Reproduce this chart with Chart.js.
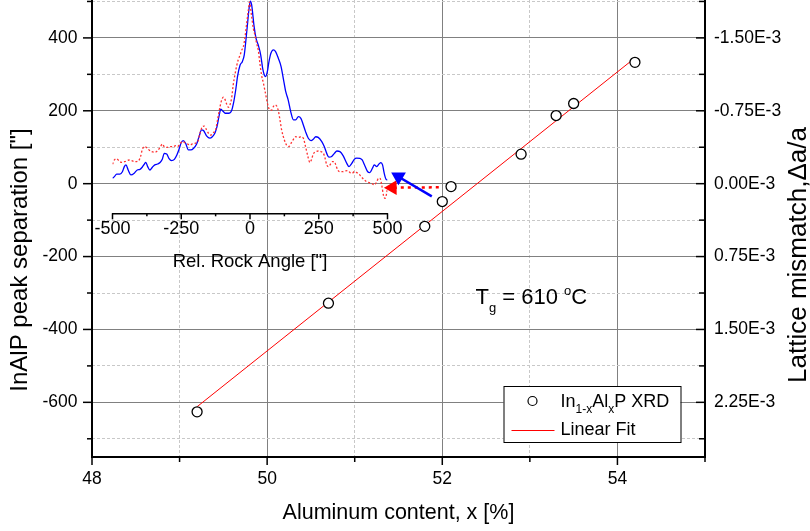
<!doctype html>
<html lang="en">
<head>
<meta charset="UTF-8" />
<title>InAlP peak separation vs Al content</title>
<script src="https://cdn.jsdelivr.net/npm/chart.js@4"></script>
<style>
  html, body { margin: 0; padding: 0; background: #fff; }
  .wrap { position: relative; width: 810px; height: 531px; }
  .wrap canvas { position: absolute; left: 0; top: 0; }
  #inset { pointer-events: none; }
</style>
</head>
<body>
<div class="wrap">
  <canvas id="main" width="810" height="531"></canvas>
  <canvas id="inset" width="810" height="531"></canvas>
</div>
<script>
// main plot: XRD peak separation vs Al content
const alContent = [49.2, 50.7, 51.8, 52.0, 52.1, 52.9, 53.3, 53.5, 54.2];
const peakSep = [-626, -328, -117, -49, -8, 81, 187, 220, 333];
const fitX = [49.2, 54.2];
const fitY = [-612, 345];

const xMajor = [48, 50, 52, 54];
const xMinor = [49, 51, 53, 55];
const yMajor = [-600, -400, -200, 0, 200, 400];
const yMinor = [-700, -500, -300, -100, 100, 300, 500];
const mismatchLabels = ['2.25E-3', '1.50E-3', '0.75E-3', '0.00E-3', '-0.75E-3', '-1.50E-3'];

// arrows from the two points near 52 % back into the inset
const blueArrowX = [51.88, 51.5];
const blueArrowY = [-35, 19];
const redArrowX = [51.96, 51.43];
const redArrowY = [-10, -11];

// inset: rocking curves, log intensity in arbitrary units
const blueAngle = [-500, -493, -485, -473, -464, -457, -451, -443, -433, -421,
  -410, -400, -392, -384, -379, -372, -364, -355, -346, -336,
  -327, -319, -312, -303, -295, -285, -275, -266, -258, -251,
  -243, -234, -224, -215, -205, -194, -186, -176, -169, -158,
  -146, -137, -127, -120, -113, -106, -97, -89, -76, -67,
  -60, -52, -45, -36, -28, -21, -16, -10, -4, 1,
  6, 15, 22, 30, 39, 46, 52, 57, 63, 69,
  76, 85, 93, 103, 113, 121, 130, 139, 148, 158,
  166, 176, 185, 194, 202, 212, 222, 230, 239, 248,
  261, 270, 279, 287, 297, 307, 316, 327, 339, 352,
  360, 370, 379, 388, 400, 408, 418, 428, 436, 445,
  452, 461, 469, 476, 482, 488, 495, 500];
const blueInt = [16.4, 17.2, 18.4, 18.4, 19.5, 21.9, 22.7, 20.3, 18.0, 18.8,
  20.3, 20.6, 21.6, 23.1, 23.9, 21.9, 20.3, 21.6, 22.7, 23.1,
  23.8, 25.3, 28.1, 27.8, 25.8, 24.7, 25.3, 27.3, 30.0, 32.8,
  34.1, 32.8, 29.7, 29.7, 30.5, 32.5, 35.6, 39.1, 38.8, 36.3,
  35.2, 35.9, 37.8, 40.6, 45.3, 48.8, 47.7, 46.9, 46.9, 48.1,
  51.6, 57.8, 64.4, 69.5, 71.1, 74.2, 79.7, 87.5, 95.3, 99.5,
  97.7, 87.5, 82.0, 78.9, 74.2, 68.0, 64.8, 64.1, 66.4, 71.1,
  75.0, 76.6, 75.8, 72.7, 68.8, 63.3, 57.0, 53.1, 47.7, 43.8,
  43.8, 45.3, 44.5, 41.4, 38.3, 35.2, 34.1, 34.7, 35.9, 35.6,
  33.6, 31.3, 28.1, 26.3, 26.6, 28.1, 29.2, 28.9, 26.9, 23.4,
  21.9, 23.4, 25.3, 25.9, 25.8, 25.0, 22.2, 19.5, 19.1, 21.1,
  22.7, 21.9, 23.1, 23.8, 22.7, 18.8, 15.9, 15.6];
const redAngle = [-500, -493, -485, -476, -467, -457, -449, -440, -430, -418,
  -406, -398, -392, -384, -376, -367, -358, -346, -336, -327,
  -319, -312, -303, -291, -279, -270, -263, -255, -246, -236,
  -227, -218, -210, -200, -190, -182, -173, -166, -158, -149,
  -142, -133, -125, -118, -109, -103, -97, -91, -85, -79,
  -73, -67, -61, -55, -49, -43, -36, -30, -24, -18,
  -12, -6, -2, 6, 12, 18, 24, 30, 36, 42,
  49, 55, 61, 67, 73, 79, 85, 91, 97, 103,
  109, 115, 125, 133, 142, 149, 158, 166, 176, 185,
  194, 202, 210, 218, 224, 230, 239, 248, 258, 267,
  273, 279, 285, 291, 299, 307, 312, 319, 327, 336,
  345, 355, 364, 372, 379, 388, 396, 406, 416, 424,
  433, 442, 452, 461, 467, 473, 479, 485, 491, 497, 500];
const redInt = [23.0, 25.0, 25.6, 24.5, 23.9, 24.2, 24.5, 25.0, 24.7, 24.2,
  24.5, 26.6, 29.7, 31.3, 30.8, 29.7, 28.9, 28.6, 29.4, 30.9,
  32.5, 31.3, 30.9, 31.3, 31.3, 31.7, 31.3, 32.5, 33.6, 33.1,
  32.5, 32.0, 32.5, 32.8, 33.6, 37.5, 40.6, 40.9, 39.1, 37.2,
  36.7, 37.8, 39.1, 43.8, 50.0, 53.1, 54.4, 53.4, 51.3, 49.7,
  50.8, 53.9, 60.2, 64.8, 68.8, 71.9, 74.2, 76.6, 78.1, 82.8,
  89.1, 95.3, 99.0, 92.2, 86.7, 83.6, 79.7, 76.6, 70.3, 64.8,
  60.9, 57.0, 53.1, 49.7, 48.4, 48.4, 50.0, 50.8, 50.3, 48.1,
  43.8, 39.1, 34.4, 32.0, 31.3, 32.8, 34.7, 35.9, 35.6, 35.9,
  35.2, 31.3, 26.9, 23.8, 25.3, 27.8, 28.9, 29.2, 28.9, 28.1,
  25.8, 22.7, 21.9, 22.7, 24.2, 24.2, 22.7, 20.3, 19.5, 19.5,
  19.8, 20.0, 19.1, 18.8, 19.5, 19.1, 18.4, 16.9, 15.6, 14.8,
  14.4, 14.1, 13.3, 14.8, 16.4, 16.4, 13.3, 8.6, 7.0, 9.4, 11.7];
const insetMajor = [-500, -250, 0, 250, 500];
const insetMinor = [-375, -125, 125, 375];

const FONT = "'Liberation Sans', Arial, sans-serif";
Chart.defaults.font.family = FONT;
Chart.defaults.color = '#000';
Chart.defaults.animation = false;

const pts = (xs, ys) => xs.map((x, i) => ({ x: x, y: ys[i] }));
const setTicks = (vals) => (s) => { s.ticks = vals.map((v) => ({ value: v })); };
// fixed axis width, and no extra room for labels at the ends
const fixWidth = (w) => (s) => { s.width = w; s.paddingTop = 0; s.paddingBottom = 0; };

// tick marks, drawn per axis with their own length and direction
function tickMarkPlugin(specs) {
  return {
    id: 'tickMarks',
    afterDraw(chart) {
      const ctx = chart.ctx;
      const area = chart.chartArea;
      ctx.save();
      ctx.strokeStyle = '#000';
      ctx.lineWidth = 1.5;
      specs.forEach((a) => {
        const scale = chart.scales[a.id];
        const draw = (vals, len) => vals.forEach((v) => {
          const p = scale.getPixelForValue(v);
          ctx.beginPath();
          if (a.edge === 'bottom') {
            ctx.moveTo(p, area.bottom);
            ctx.lineTo(p, area.bottom + len);
          } else if (a.edge === 'left') {
            ctx.moveTo(area.left, p);
            ctx.lineTo(area.left - len, p);
          } else {
            ctx.moveTo(area.right, p);
            ctx.lineTo(area.right - len, p);
          }
          ctx.stroke();
        });
        draw(a.major, a.majorLen);
        draw(a.minor, a.minorLen);
      });
      ctx.restore();
    }
  };
}

// text made of runs: [text, size, baseline shift]
function drawRuns(ctx, x, y, runs) {
  runs.forEach(([t, size, dy]) => {
    ctx.font = size + 'px ' + FONT;
    ctx.fillText(t, x, y + dy);
    x += ctx.measureText(t).width;
  });
}

const textPlugin = {
  id: 'texts',
  afterDraw(chart) {
    const ctx = chart.ctx;
    const area = chart.chartArea;
    const sx = chart.scales.x, sy = chart.scales.y;
    ctx.save();
    ctx.fillStyle = '#000';

    // vertical axis titles
    ctx.textAlign = 'center';
    ctx.textBaseline = 'middle';
    ctx.save();
    ctx.translate(area.left - 72, area.top + 260);
    ctx.rotate(-Math.PI / 2);
    ctx.font = '24px ' + FONT;
    ctx.fillText('InAlP peak separation ["]', 0, 0);
    ctx.restore();
    ctx.save();
    ctx.translate(area.right + 94, area.top + 255);
    ctx.rotate(-Math.PI / 2);
    ctx.font = '26px ' + FONT;
    ctx.fillText('Lattice mismatch,\u0394a/a', 0, 0);
    ctx.restore();

    // growth temperature note
    ctx.textAlign = 'left';
    ctx.textBaseline = 'alphabetic';
    drawRuns(ctx, sx.getPixelForValue(52.38), sy.getPixelForValue(-329), [
      ['T', 22, 0], ['g', 13, 8], [' = 610 ', 22, 0], ['o', 13, -9], ['C', 22, 0]
    ]);

    // legend box
    const bx = area.right - 201.5, by = area.bottom - 71, bw = 177, bh = 56;
    ctx.fillStyle = '#fff';
    ctx.fillRect(bx, by, bw, bh);
    ctx.strokeStyle = '#000';
    ctx.lineWidth = 1;
    ctx.strokeRect(bx + 0.5, by + 0.5, bw, bh);
    ctx.beginPath();
    ctx.arc(bx + 29, by + 15, 4.5, 0, Math.PI * 2);
    ctx.lineWidth = 1.2;
    ctx.stroke();
    ctx.beginPath();
    ctx.strokeStyle = '#ff0000';
    ctx.lineWidth = 1;
    ctx.moveTo(bx + 8, by + 44.5);
    ctx.lineTo(bx + 51, by + 44.5);
    ctx.stroke();
    ctx.fillStyle = '#000';
    drawRuns(ctx, bx + 57, by + 21, [
      ['In', 18, 0], ['1-x', 12, 6], ['Al', 18, 0], ['x', 12, 6], ['P XRD', 18, 0]
    ]);
    drawRuns(ctx, bx + 57, by + 49, [['Linear Fit', 18, 0]]);
    ctx.restore();
  }
};

function arrowRotation(c) {
  if (c.type !== 'data' || c.dataIndex !== 1) return 0;
  const d = c.dataset.data;
  const sx = c.chart.scales.x, sy = c.chart.scales.y;
  const dx = sx.getPixelForValue(d[1].x) - sx.getPixelForValue(d[0].x);
  const dy = sy.getPixelForValue(d[1].y) - sy.getPixelForValue(d[0].y);
  return Math.atan2(dx, -dy) * 180 / Math.PI;
}

new Chart(document.getElementById('main'), {
  type: 'scatter',
  data: {
    datasets: [
      {
        label: 'In1-xAlxP XRD',
        data: pts(alContent, peakSep),
        pointRadius: 5,
        pointBorderWidth: 1.3,
        borderColor: '#000',
        backgroundColor: '#fff',
        order: 0
      },
      {
        label: 'Linear Fit',
        type: 'line',
        data: pts(fitX, fitY),
        borderColor: '#ff0000',
        borderWidth: 1,
        pointRadius: 0,
        order: 1
      },
      {
        label: 'blue arrow',
        type: 'line',
        data: pts(blueArrowX, blueArrowY),
        borderColor: '#0000ff',
        borderWidth: 2.5,
        pointRadius: [0, 6],
        pointStyle: 'triangle',
        pointBackgroundColor: '#0000ff',
        pointBorderColor: '#0000ff',
        pointRotation: arrowRotation,
        order: 2
      },
      {
        label: 'red arrow',
        type: 'line',
        data: pts(redArrowX, redArrowY),
        borderColor: '#ff0000',
        borderWidth: 2.5,
        borderDash: [3, 4],
        pointRadius: [0, 6],
        pointStyle: 'triangle',
        pointBackgroundColor: '#ff0000',
        pointBorderColor: '#ff0000',
        pointRotation: arrowRotation,
        order: 3
      }
    ]
  },
  options: {
    responsive: false,
    events: [],
    layout: { padding: 0, autoPadding: false },
    plugins: { legend: { display: false }, tooltip: { enabled: false } },
    scales: {
      x: {
        type: 'linear',
        position: 'bottom',
        min: 48,
        max: 55,
        afterBuildTicks: setTicks(xMajor),
        afterFit: (s) => { s.height = 74; },
        grid: { color: '#808080', lineWidth: 1, drawTicks: false },
        border: { color: '#000', width: 2 },
        ticks: { font: { size: 17.5 }, padding: 12, maxRotation: 0, autoSkip: false, callback: (v) => String(v) },
        title: {
          display: true,
          text: 'Aluminum content, x [%]',
          font: { size: 21.5 },
          padding: { top: 0, bottom: 5 }
        }
      },
      xGrid: {
        type: 'linear',
        position: 'bottom',
        min: 48,
        max: 55,
        afterBuildTicks: setTicks(xMinor),
        afterFit: (s) => { s.height = 0; },
        grid: { color: '#c8c8c8', lineWidth: 1, drawTicks: false },
        border: { display: false, dash: [3, 2] },
        ticks: { display: false }
      },
      y: {
        position: 'left',
        min: -750,
        max: 504,
        afterBuildTicks: setTicks(yMajor),
        afterFit: fixWidth(92),
        grid: { color: '#808080', lineWidth: 1, drawTicks: false },
        border: { color: '#000', width: 2 },
        ticks: { font: { size: 17.5 }, padding: 14.5, autoSkip: false, callback: (v) => String(v) }
      },
      yGrid: {
        position: 'left',
        min: -750,
        max: 504,
        afterBuildTicks: setTicks(yMinor),
        afterFit: fixWidth(0),
        grid: { color: '#c8c8c8', lineWidth: 1, drawTicks: false },
        border: { display: false, dash: [3, 2] },
        ticks: { display: false }
      },
      y2: {
        position: 'right',
        min: -750,
        max: 504,
        afterBuildTicks: setTicks(yMajor),
        afterFit: fixWidth(105),
        grid: { drawOnChartArea: false, drawTicks: false },
        border: { color: '#000', width: 2 },
        ticks: { font: { size: 17.5 }, padding: 9, autoSkip: false, callback: (v, i) => mismatchLabels[i] }
      }
    }
  },
  plugins: [
    tickMarkPlugin([
      { id: 'x', edge: 'bottom', major: xMajor, minor: xMinor, majorLen: 8, minorLen: 5 },
      { id: 'y', edge: 'left', major: yMajor, minor: yMinor, majorLen: 9, minorLen: 5 },
      { id: 'y2', edge: 'right', major: yMajor, minor: yMinor, majorLen: 9, minorLen: 6 }
    ]),
    textPlugin
  ]
});

// inset chart, overlaid on the main one
new Chart(document.getElementById('inset'), {
  type: 'line',
  data: {
    datasets: [
      {
        data: pts(redAngle, redInt),
        borderColor: '#ff3030',
        borderWidth: 1.3,
        borderDash: [2, 2],
        pointRadius: 0,
        cubicInterpolationMode: 'monotone'
      },
      {
        data: pts(blueAngle, blueInt),
        borderColor: '#0000ff',
        borderWidth: 1.3,
        pointRadius: 0,
        cubicInterpolationMode: 'monotone'
      }
    ]
  },
  options: {
    responsive: false,
    events: [],
    layout: { padding: { left: 112.5, right: 422.5, top: 0, bottom: 257.7 }, autoPadding: false },
    plugins: { legend: { display: false }, tooltip: { enabled: false } },
    scales: {
      x: {
        type: 'linear',
        min: -500,
        max: 500,
        afterBuildTicks: setTicks(insetMajor),
        afterFit: (s) => { s.height = 60; },
        grid: { display: false, drawTicks: false },
        border: { color: '#000', width: 1.5 },
        ticks: { font: { size: 18 }, padding: 5, maxRotation: 0, autoSkip: false, callback: (v) => String(v) },
        title: {
          display: true,
          text: 'Rel. Rock Angle ["]',
          font: { size: 18.5 },
          padding: { top: 0, bottom: 0 }
        }
      },
      y: { min: 0, max: 100, display: false }
    }
  },
  plugins: [
    tickMarkPlugin([
      { id: 'x', edge: 'bottom', major: insetMajor, minor: insetMinor, majorLen: 6, minorLen: 3 }
    ])
  ]
});
</script>
</body>
</html>
